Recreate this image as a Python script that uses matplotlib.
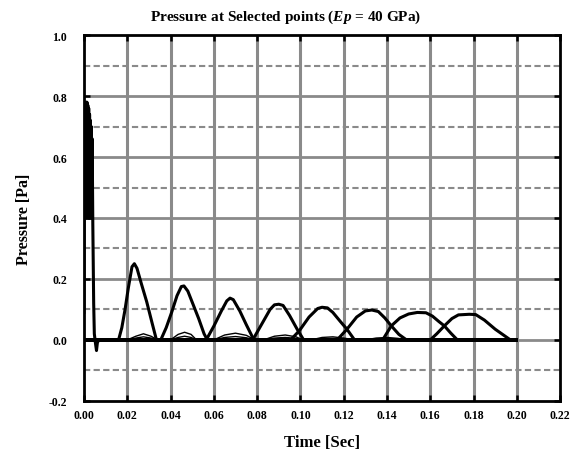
import matplotlib
matplotlib.use("Agg")
import matplotlib.pyplot as plt
import numpy as np

# ---------------- data ----------------
T_END = 0.1998  # all records end here (s)

# initial spike at the loaded point (rapid oscillation)
t0 = [0.0000, 0.0002, 0.0004, 0.0006, 0.0008, 0.0010, 0.0012, 0.0014, 0.0016,
      0.0018, 0.0020, 0.0022, 0.0024, 0.0026, 0.0028, 0.0030, 0.0032, 0.0034,
      0.0036, 0.0038, 0.0041, 0.0043, 0.0045, 0.0048, 0.0053, 0.0058, 0.0062, 0.0068]
p0 = [0.09, 0.78, 0.45, 0.78, 0.42, 0.78, 0.40, 0.78, 0.41, 0.77, 0.40, 0.76,
      0.40, 0.74, 0.40, 0.72, 0.40, 0.70, 0.40, 0.66, 0.38, 0.25, 0.12, 0.02, -0.01,
      -0.035, -0.01, 0.0]

# pressure pulses at the successive selected points
t1 = [0.0160, 0.0175, 0.0190, 0.0205, 0.0222, 0.0233, 0.0245, 0.0265, 0.0290, 0.0315, 0.0335]
p1 = [0.0, 0.04, 0.10, 0.17, 0.24, 0.25, 0.235, 0.185, 0.125, 0.055, 0.0]

t2 = [0.0355, 0.0380, 0.0405, 0.0430, 0.0450, 0.0462, 0.0480, 0.0505, 0.0530, 0.0555, 0.0570]
p2 = [0.0, 0.04, 0.09, 0.145, 0.175, 0.177, 0.16, 0.115, 0.07, 0.02, 0.0]

t3 = [0.0565, 0.0600, 0.0635, 0.0660, 0.0675, 0.0690, 0.0720, 0.0750, 0.0785]
p3 = [0.0, 0.045, 0.095, 0.128, 0.137, 0.132, 0.095, 0.05, 0.0]

t4 = [0.0780, 0.0820, 0.0860, 0.0880, 0.0900, 0.0920, 0.0950, 0.0985, 0.1015]
p4 = [0.0, 0.05, 0.10, 0.115, 0.117, 0.113, 0.08, 0.035, 0.0]

t5 = [0.0955, 0.0995, 0.1040, 0.1080, 0.1100, 0.1125, 0.1150, 0.1185, 0.1215, 0.1250]
p5 = [0.0, 0.03, 0.075, 0.103, 0.107, 0.105, 0.09, 0.06, 0.035, 0.0]

t6 = [0.1170, 0.1215, 0.1260, 0.1300, 0.1330, 0.1360, 0.1390, 0.1420, 0.1455, 0.1490]
p6 = [0.0, 0.035, 0.075, 0.095, 0.098, 0.093, 0.072, 0.046, 0.018, 0.0]

t7 = [0.1380, 0.1420, 0.1460, 0.1500, 0.1540, 0.1580, 0.1610, 0.1640, 0.1665, 0.1695, 0.1725]
p7 = [0.0, 0.046, 0.072, 0.085, 0.090, 0.089, 0.078, 0.060, 0.046, 0.022, 0.0]

t8 = [0.1600, 0.1630, 0.1665, 0.1700, 0.1730, 0.1780, 0.1810, 0.1850, 0.1900, 0.1940, 0.1970]
p8 = [0.0, 0.02, 0.046, 0.07, 0.082, 0.084, 0.083, 0.065, 0.035, 0.015, 0.0]

# weak secondary responses (thin lines near zero)
ts = [0.0200, 0.0240, 0.0275, 0.0310, 0.0340, 0.0400, 0.0435, 0.0465, 0.0495, 0.0520,
      0.0600, 0.0650, 0.0700, 0.0750, 0.0790, 0.0830, 0.0880, 0.0930, 0.0980, 0.1010,
      0.1050, 0.1100, 0.1150, 0.1200, 0.1250, 0.1300, 0.1350, 0.1400, 0.1450, 0.1500]
ps_a = [0.0, 0.012, 0.020, 0.012, 0.0, 0.0, 0.018, 0.025, 0.018, 0.0,
        0.0, 0.016, 0.022, 0.015, 0.0, 0.0, 0.012, 0.016, 0.010, 0.0,
        0.0, 0.008, 0.010, 0.006, 0.0, 0.0, 0.006, 0.008, 0.005, 0.0]
ps_b = [0.0, 0.006, 0.010, 0.006, 0.0, 0.0, 0.008, 0.012, 0.008, 0.0,
        0.0, 0.008, 0.011, 0.007, 0.0, 0.0, 0.006, 0.008, 0.005, 0.0,
        0.0, 0.004, 0.005, 0.003, 0.0, 0.0, 0.003, 0.004, 0.002, 0.0]

x_ticks = [0.00, 0.02, 0.04, 0.06, 0.08, 0.10, 0.12, 0.14, 0.16, 0.18, 0.20, 0.22]
y_ticks = [-0.2, 0.0, 0.2, 0.4, 0.6, 0.8, 1.0]
y_minor = [-0.1, 0.1, 0.3, 0.5, 0.7, 0.9]

# ---------------- figure ----------------
plt.rcParams['font.family'] = ['Liberation Serif', 'DejaVu Serif']
plt.rcParams['mathtext.fontset'] = 'custom'
plt.rcParams['mathtext.it'] = 'Liberation Serif:italic:bold'
plt.rcParams['mathtext.rm'] = 'Liberation Serif:bold'

fig = plt.figure(figsize=(5.71, 4.52), dpi=100)
ax = fig.add_axes([0.147, 0.111, 0.834, 0.809])

grid_col = '#8a8a8a'
for x in x_ticks[1:-1]:
    ax.axvline(x, color=grid_col, lw=2.2, zorder=1)
for y in y_ticks[1:-1]:
    ax.axhline(y, color=grid_col, lw=2.0, zorder=1)
for y in y_minor:
    ax.axhline(y, color=grid_col, lw=1.5, ls=(0, (3, 1.6)), zorder=1)

# thin secondary lines
ax.plot(ts, ps_a, color='black', lw=1.0, zorder=3)
ax.plot(ts, ps_b, color='black', lw=1.0, zorder=3)

# main records, each padded with zeros up to the end of the record
for t, p in [(t1, p1), (t2, p2), (t3, p3), (t4, p4), (t5, p5), (t6, p6), (t7, p7), (t8, p8)]:
    tt = np.r_[0.0, t, T_END]
    pp = np.r_[0.0, p, 0.0]
    ax.plot(tt, pp, color='black', lw=2.2, zorder=4)
ax.plot(np.r_[t0, T_END], np.r_[p0, 0.0], color='black', lw=2.2, zorder=4)

ax.set_xlim(0.0, 0.22)
ax.set_ylim(-0.2, 1.0)
ax.set_xticks(x_ticks)
ax.set_xticklabels([f"{v:.2f}" for v in x_ticks])
ax.set_yticks(y_ticks)
ax.set_yticklabels([f"{v:.1f}" for v in y_ticks])
ax.tick_params(axis='both', which='major', direction='in', length=4, width=1.8,
               top=True, right=True, labelsize=8.5)
ax.tick_params(axis='y', pad=12)
ax.tick_params(axis='x', pad=6)
for lab in ax.get_xticklabels() + ax.get_yticklabels():
    lab.set_fontweight('bold')
for s in ax.spines.values():
    s.set_linewidth(2.0)
    s.set_zorder(5)

ax.set_xlabel('Time [Sec]', fontsize=12, fontweight='bold', labelpad=9)
ax.set_ylabel('Pressure [Pa]', fontsize=11.5, fontweight='bold', labelpad=12)
fig.text(0.5, 0.962, r'Pressure at Selected points ($\mathit{Ep}$ = 40 GPa)',
         ha='center', va='center', fontsize=11, fontweight='bold')

fig.savefig('out.png', dpi=100)
